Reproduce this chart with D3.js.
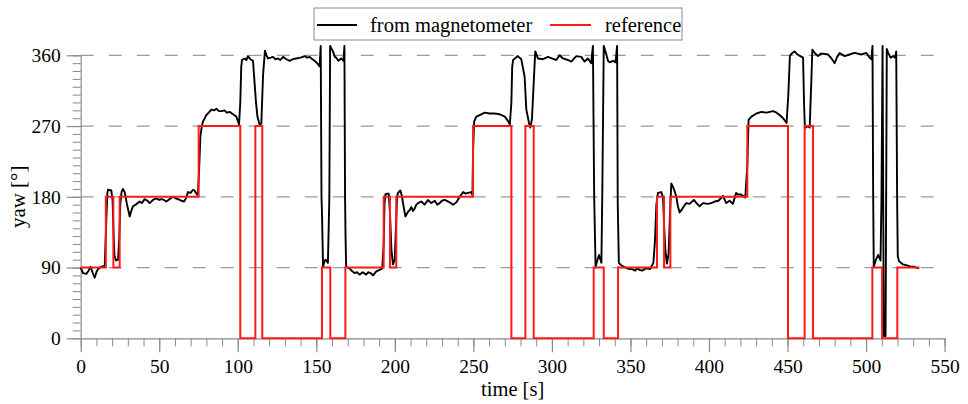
<!DOCTYPE html>
<html>
<head>
<meta charset="utf-8">
<script src="https://cdn.jsdelivr.net/npm/d3@7"></script>
<style>
  html, body { margin: 0; padding: 0; background: #fff; }
  svg text { font-family: "Liberation Serif", "Times New Roman", serif; fill: #000; }
</style>
</head>
<body>
<svg id="chart" width="968" height="404"></svg>
<script>
// ---- data ----
const xTicks = [0, 50, 100, 150, 200, 250, 300, 350, 400, 450, 500, 550];
const yTicks = [0, 90, 180, 270, 360];
const seriesNames = ["from magnetometer", "reference"];

// reference (step changes: time, value from that time on)
const refT = [0, 16, 20.8, 24.8, 75.1, 101.6, 111.2, 115.6, 153.6, 158.9, 168.5, 192.9, 196.9, 200.9, 249.8, 274.2, 283.1, 288.4, 326.6, 333, 342.1, 366.9, 371.4, 375.4, 424.4, 450.3, 460.9, 466.2, 504, 510.2, 519.9, 534];
const refV = [90, 180, 90, 180, 270, 0, 270, 0, 90, 0, 90, 180, 90, 180, 270, 0, 270, 0, 90, 0, 90, 180, 90, 180, 270, 0, 270, 0, 90, 0, 90, 90];

// magnetometer yaw
const magT = [0,1.5,3.6,5,6.3,7.5,8.9,10,11,13.1,15.3,16.3,17,17.4,19.5,20.3,20.8,21.5,22.5,23.8,24.6,25.2,26,26.9,28,29.5,31.2,32.2,33.3,35,37.5,39,40.7,42.5,43.9,46,48.1,50,51.3,53,54.5,56.5,58.8,60.5,61.9,64,65.8,67,68.3,70,71.5,72.5,73.6,74.6,75.4,76.2,77.1,77.9,79,80,81.5,83.2,84.8,86.4,88,89.6,91.5,93,94.8,97,99.1,100.8,101.6,102.2,102.7,104.4,105.5,106.5,108,109.7,110.7,111.6,112.5,113.9,115,116.1,117.3,118.3,119.2,121,122.4,124,125.6,127,128.8,131,133,135,137.3,140,142.6,144,145.7,147.5,148.9,150.5,152.1,152.8,153.3,153.6,154.3,155.2,156,157.4,158.3,158.8,160,160.6,161.8,162.7,164,165.8,167.3,167.9,168.3,168.6,169,170,171.1,172.5,174.3,176,177.5,179.6,181.7,183,184.5,186.1,188.2,190.3,192,192.9,193.4,194,195,196.1,196.9,197.8,198.8,199.9,200.9,201.4,202,203.5,204.4,205.2,206.7,208.4,209.5,210.5,211.5,212.6,213.7,214.8,216.9,218.9,221.1,223.2,225.4,227,228.5,230,231.8,234.9,237.1,239.2,241.3,243.5,245,246.6,248.7,249.4,249.8,250.5,251.9,254,257.2,260.4,263.6,266.8,270,272.2,273.2,274.2,274.7,275.3,277,278.3,280.5,282.6,283.7,285.4,286.2,287.3,288.4,289.4,291.1,294.3,297.5,300,302.8,304.9,307,310.2,312.3,315.5,318.7,320.8,322.9,325,326.1,326.9,327.8,329,330,331.5,332.1,333,334.5,335.7,336.8,338.9,340.5,341.5,341.9,342.6,344.7,346,347.9,349.5,351.1,353,354.2,355.8,357.4,359,360.6,362.5,364.6,365.6,366.5,367.5,369.6,370.7,371.5,372.2,373.2,374.3,375.2,376,377,378,379.2,380.2,381.3,382.8,384,385.5,387.6,390.4,392,394,396.2,399.3,401.4,403.6,406,408.9,411,413.1,415.2,417.3,418.5,420.4,423.1,424.4,425.2,427,430.2,433.4,436.6,440.8,443,445,447.2,449.4,450.5,451.5,452.5,454.5,456.3,458.1,459.9,460.5,461,461.6,463,464.1,465.2,465.8,467.3,469.4,471,472.6,475.8,478,480,481.6,483.2,486.4,489.5,492.7,496.9,500.2,502.3,503.4,504.1,504.5,504.9,506.3,507.7,509.2,509.8,510.5,511.3,512.4,513.2,514.1,515.6,517.3,518.5,519.2,519.8,520.2,521,522.3,523.5,525.5,527,528.7,530.3,531.9,533.6];
const magV = [90,83,82,86,91,84,77,84,88,91,92,150,185,189,188,175,140,105,99,100,130,170,186,190,186,170,155,162,168,170,174,172,177,175,172,176,178,176,177,176,174,177,180,178,177,175,174,178,186,185,189,188,184,182,215,257,270,276,280,284,287,291,290,292,289,289,290,287,288,285,282,272,300,345,354,356,354,359,355,353,325,300,282,272,273,335,366,360,356,357,358,355,356,354,358,355,353,355,356,357,359,357,358,355,353,350,346,372,180,160,91,98,100,96,180,372,367,365,358,357,353,356,353,372,180,130,91,90,89,86,83,84,81,84,81,84,83,80,85,87,89,120,170,183,184,184,160,113,94,100,150,180,185,188,182,172,155,161,163,167,162,165,170,172,174,170,176,172,175,170,172,175,176,173,170,173,180,186,184,185,186,182,240,276,282,284,287,286,286,285,282,276,272,300,345,354,357,359,355,333,291,274,268,279,325,365,356,355,358,356,354,360,356,354,352,359,358,352,356,350,372,180,91,100,106,96,189,372,362,353,351,353,351,372,172,96,92,91,89,88,88,86,89,87,86,88,89,88,96,124,170,185,186,180,140,113,95,108,160,197,193,188,180,168,160,164,168,172,171,176,172,168,172,171,172,174,175,181,172,175,171,185,183,183,179,220,278,282,286,288,287,289,287,284,280,274,310,359,362,365,361,359,357,300,270,268,270,268,330,367,363,359,362,362,361,356,350,358,363,359,361,363,361,363,357,355,372,189,91,100,106,99,176,372,3,3,368,363,357,359,357,365,172,104,98,96,94,93,92,91,91,90,89];

// ---- layout ----
const svg = d3.select("#chart");
const x = d3.scaleLinear().domain([0, 550]).range([80.7, 944.6]);
const y = d3.scaleLinear().domain([0, 360]).range([338.3, 55.3]);
const FS = 19.5;
const FS_T = 20.5;
const grey = "#8a8a8a";

// dashed grid
svg.append("g").selectAll("line")
  .data(yTicks.filter(d => d > 0))
  .join("line")
  .attr("x1", x(0)).attr("x2", x(550))
  .attr("y1", d => y(d)).attr("y2", d => y(d))
  .attr("stroke", "#9a9a9a").attr("stroke-width", 1.3)
  .attr("stroke-dasharray", "13,15");

// minor ticks
const yMinor = svg.append("g").attr("transform", `translate(${x(0)},0)`)
  .call(d3.axisLeft(y).tickValues(d3.range(0, 361, 10)).tickSize(8).tickFormat(""));
const xMinor = svg.append("g").attr("transform", `translate(0,${y(0)})`)
  .call(d3.axisBottom(x).tickValues(d3.range(0, 551, 10)).tickSize(8).tickFormat(""));
[yMinor, xMinor].forEach(g => { g.select(".domain").remove(); g.selectAll("line").attr("stroke", grey); });

// major axes
const yAxis = svg.append("g").attr("transform", `translate(${x(0)},0)`)
  .call(d3.axisLeft(y).tickValues(yTicks).tickSize(14).tickSizeOuter(0).tickPadding(6).tickFormat(d3.format("d")));
const xAxis = svg.append("g").attr("transform", `translate(0,${y(0)})`)
  .call(d3.axisBottom(x).tickValues(xTicks).tickSize(14).tickSizeOuter(0).tickPadding(7).tickFormat(d3.format("d")));
[yAxis, xAxis].forEach(g => {
  g.select(".domain").attr("stroke", grey).attr("stroke-width", 1.2);
  g.selectAll("line").attr("stroke", grey).attr("stroke-width", 1.2);
  g.selectAll("text").attr("font-family", '"Liberation Serif", serif').attr("font-size", FS).attr("fill", "#000");
});

// axis titles
svg.append("text").attr("x", x(275)).attr("y", 396).attr("text-anchor", "middle")
  .attr("font-size", FS_T).text("time [s]");
svg.append("text").attr("transform", `translate(25,${y(180)}) rotate(-90)`).attr("text-anchor", "middle")
  .attr("font-size", 21).text("yaw [°]");

// lines
const magData = magT.map((t, i) => [t, magV[i]]);
const refData = refT.map((t, i) => [t, refV[i]]);
const line = d3.line().x(d => x(d[0])).y(d => y(d[1]));
svg.append("path").datum(magData).attr("d", line)
  .attr("fill", "none").attr("stroke", "#000").attr("stroke-width", 1.9).attr("stroke-linejoin", "round");
svg.append("path").datum(refData).attr("d", line.curve(d3.curveStepAfter))
  .attr("fill", "none").attr("stroke", "#ff1a1a").attr("stroke-width", 2);

// legend
const lg = svg.append("g");
lg.append("rect").attr("x", 314).attr("y", 8).attr("width", 368).attr("height", 32)
  .attr("fill", "#fff").attr("stroke", grey).attr("stroke-width", 1);
const legendItems = [
  {name: seriesNames[0], color: "#000", x0: 317, x1: 357, tx: 370},
  {name: seriesNames[1], color: "#ff1a1a", x0: 550, x1: 591, tx: 605}
];
legendItems.forEach(it => {
  lg.append("line").attr("x1", it.x0).attr("x2", it.x1).attr("y1", 25).attr("y2", 25)
    .attr("stroke", it.color).attr("stroke-width", 2);
  lg.append("text").attr("x", it.tx).attr("y", 32).attr("font-size", FS_T).text(it.name);
});
</script>
</body>
</html>
